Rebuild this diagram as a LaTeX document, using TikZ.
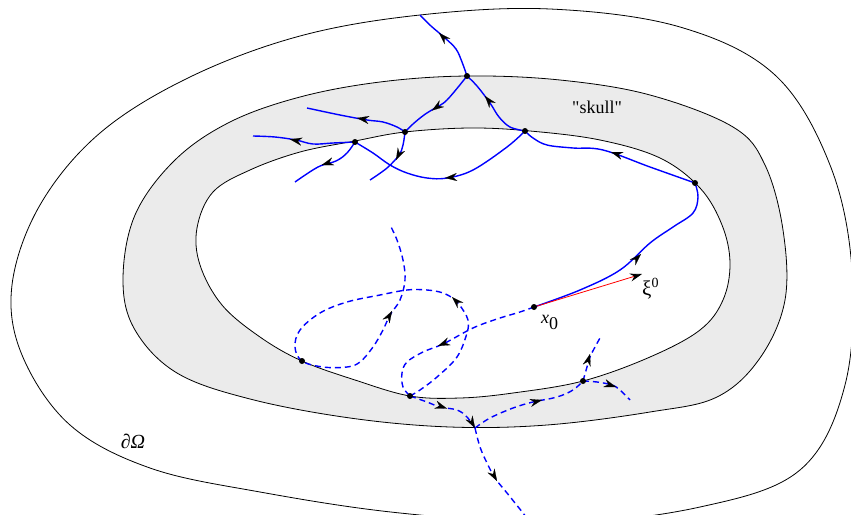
\documentclass[tikz,border=0pt]{standalone}
\usepackage{fontspec}
\setmainfont{Liberation Serif}
\newfontfamily\plainserif{Liberation Serif}
\usetikzlibrary{arrows.meta}
\definecolor{skullgray}{HTML}{EBEBEB}
\begin{document}
\begin{tikzpicture}[x=1pt,y=-1pt,
  bnd/.style={line width=0.8pt,black},
  sol/.style={blue,line width=1.4pt},
  dsh/.style={blue,line width=1.4pt,dash pattern=on 6pt off 4pt},
  tipst/.style={-{Stealth[length=12pt,width=8pt,inset=4pt,color=black]},line width=0.1pt,draw=blue},
  dotst/.style={circle,fill=black,inner sep=0pt,minimum size=6pt},
  lbl/.style={font=\fontsize{18}{20}\selectfont,inner sep=0pt}]
\useasboundingbox (0,0) rectangle (851,514);
% named points
\coordinate (A) at (467,76);
\coordinate (B) at (405,132);
\coordinate (C) at (355,142);
\coordinate (D) at (525,131);
\coordinate (E) at (695,183);
\coordinate (X0) at (534,307);
\coordinate (F) at (302,361);
\coordinate (G) at (410,396);
\coordinate (H) at (583,381);
\coordinate (K) at (475,428);
\coordinate (xi) at (642,274);
\def\midpts{(467,76) (560,80) (650,95) (733,127) (765,165) (783,230) (785,300) (760,358) (717,397) (650,412) (547,425) (450,427) (350,418) (250,399) (177,373) (135,330) (123,280) (135,215) (175,160) (230,122) (300,97) (380,82)}
\def\innpts{(250,170) (300,152) (355,141) (405,132) (470,128) (530,131) (600,140) (660,158) (700,188) (722,225) (730,263) (723,300) (700,330) (650,357) (583,381) (513,393) (460,398) (410,396) (355,380) (302,361) (260,337) (222,305) (200,265) (197,228) (213,192)}
\begin{scope}
\clip (0,0) rectangle (851,514);
% skull band
\fill[skullgray,even odd rule]
  plot[smooth cycle,tension=0.6] coordinates {\midpts}
  plot[smooth cycle,tension=0.6] coordinates {\innpts};
% outer boundary
\draw[bnd] plot[smooth cycle,tension=0.6] coordinates {(300,36) (420,15) (550,9) (680,27) (775,75) (830,165) (852,270) (845,385) (800,470) (700,507) (560,523) (400,513) (260,492) (150,468) (70,425) (22,355) (12,285) (40,205) (100,133) (190,77)};
\draw[bnd] plot[smooth cycle,tension=0.6] coordinates {\midpts};
\draw[bnd] plot[smooth cycle,tension=0.6] coordinates {\innpts};
% solid rays
\draw[sol] plot[smooth,tension=0.6] coordinates {(X0) (580,290) (620,270) (650,243) (673,227) (693,213) (698,197) (E)};
\draw[sol] plot[smooth,tension=0.6] coordinates {(E) (650,167) (603,150) (573,148) (547,145) (533,138) (D)};
\draw[sol] plot[smooth,tension=0.6] coordinates {(D) (510,127) (499,117) (490,103) (477,86) (A)};
\draw[sol] plot[smooth,tension=0.6] coordinates {(A) (462,62) (456,49) (445,38) (431,26) (420,15)};
\draw[sol] plot[smooth,tension=0.6] coordinates {(A) (447,100) (435,108) (424,115) (413,124) (B)};
\draw[sol] plot[smooth,tension=0.6] coordinates {(B) (397,127) (383,122) (367,120) (340,115) (307,108)};
\draw[sol] plot[smooth,tension=0.6] coordinates {(B) (403,145) (399,155) (387,168) (370,180)};
\draw[sol] plot[smooth,tension=0.6] coordinates {(C) (333,143) (313,144) (296,140) (275,137) (253,136)};
\draw[sol] plot[smooth,tension=0.6] coordinates {(C) (347,153) (336,161) (318,167) (295,182)};
\draw[sol] plot[smooth,tension=0.6] coordinates {(D) (507,147) (473,170) (447,178) (427,178) (407,173) (390,165) (373,153) (C)};
% dashed rays
\draw[dsh] plot[smooth,tension=0.6] coordinates {(X0) (520,312) (500,318) (480,325) (467,331) (443,344) (423,352) (407,362) (402,373) (403,387) (G)};
\draw[dsh] plot[smooth,tension=0.6] coordinates {(G) (420,390) (437,377) (457,357) (467,333) (468,320) (463,310) (455,300) (443,293) (427,290) (407,290) (380,295) (347,302) (320,313) (300,330) (295,347) (F) (323,367) (347,367) (360,362) (373,347) (383,330) (390,315) (400,300) (405,280) (403,260) (397,240) (390,225)};
\draw[dsh] plot[smooth,tension=0.6] coordinates {(G) (427,402) (440,407) (457,410) (467,417) (K)};
\draw[dsh] plot[smooth,tension=0.6] coordinates {(K) (480,447) (487,463) (495,478) (507,493) (523,513) (528,520)};
\draw[dsh] plot[smooth,tension=0.6] coordinates {(K) (490,418) (513,408) (533,402) (557,397) (573,390) (H)};
\draw[dsh] plot[smooth,tension=0.6] coordinates {(H) (587,367) (590,357) (595,347) (600,338)};
\draw[dsh] plot[smooth,tension=0.6] coordinates {(H) (597,382) (612,385) (620,390) (630,400)};
\end{scope}
% arrowheads
\draw[tipst] (636.5,258.5) -- (641,254);
\draw[tipst] (617,154) -- (611,152);
\draw[tipst] (489,101) -- (485,96);
\draw[tipst] (444,38) -- (439,33);
\draw[tipst] (437,107) -- (432,110.5);
\draw[tipst] (363,119) -- (357,118);
\draw[tipst] (399,154) -- (396,160);
\draw[tipst] (296,140.5) -- (290,139.3);
\draw[tipst] (328,163) -- (321.7,165);
\draw[tipst] (451,177.5) -- (445,178);
\draw[tipst] (444,343.5) -- (438,346);
\draw[tipst] (457,302) -- (452,297);
\draw[tipst] (388.6,317) -- (392,311);
\draw[tipst] (441,406.5) -- (447,408.5);
\draw[tipst] (471,421) -- (475,428);
\draw[tipst] (493,474) -- (497,481);
\draw[tipst] (536,401.5) -- (542,400);
\draw[tipst] (588,361) -- (590,354);
\draw[tipst] (610,385) -- (616,387);
% direction xi^0
\draw[red,line width=0.8pt,-{Stealth[length=12pt,width=8pt,inset=4pt,color=black]}] (X0) -- (xi);
% dots
\foreach \p in {A,B,C,D,E,X0,F,G,H} \node[dotst] at (\p) {};
% labels
\node[lbl,anchor=base] (skull) at (597,113) {\plainserif "skull"};
\node[lbl,anchor=base west] (xlab) at (541,323) {\textit{x}\raisebox{-6pt}{0}};
\node[lbl,anchor=base west] (xilab) at (642,295) {\fontsize{21}{22}\selectfont ξ\raisebox{8pt}{\fontsize{14}{14}\selectfont 0}};
\node[lbl] (dom) at (133,441) {\fontsize{20}{22}\selectfont\textit{∂Ω}};
\end{tikzpicture}
\end{document}
